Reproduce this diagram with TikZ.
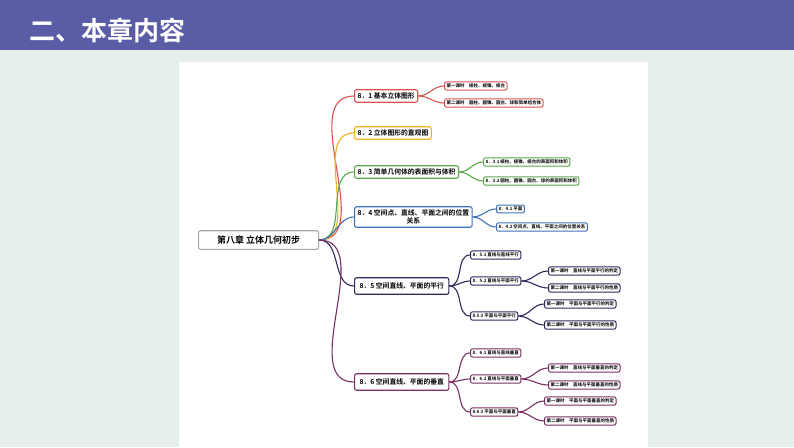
\documentclass[tikz,border=0pt]{standalone}
\usepackage{fontspec}
\setmainfont{Noto Sans CJK SC}[BoldFont={Noto Sans CJK SC Bold}]
\usetikzlibrary{positioning}
\definecolor{banner}{HTML}{5B5CA6}
\definecolor{bgray}{HTML}{E7EFED}
\definecolor{cA}{HTML}{D9534F}
\definecolor{cB}{HTML}{F0B323}
\definecolor{cC}{HTML}{5BA84A}
\definecolor{cD}{HTML}{3D72B8}
\definecolor{cE}{HTML}{2E2A5C}
\definecolor{cF}{HTML}{7A2F62}
\tikzset{
  box/.style={draw, rounded corners=2pt, line width=1.1pt, fill=white, inner sep=3pt, font=\fontsize{6.8}{8}\selectfont\bfseries, anchor=west, align=center},
  sub/.style={box, font=\fontsize{4.5}{5}\selectfont\bfseries, inner sep=2pt, line width=1pt},
  link/.style={line width=1.1pt}
}
\begin{document}
\begin{tikzpicture}[x=1pt,y=-1pt]
    %% background
    \fill[bgray] (0,0) rectangle (794,447);
    \useasboundingbox (0,0) rectangle (794,447);
    \fill[banner] (0,0) rectangle (794,50);
    \node[white, font=\fontsize{26}{28}\selectfont\bfseries, anchor=west] (title) at (26,30) {二、本章内容};
    \fill[white] (179,62) rectangle (648,447);
    %% root
    \node[box, draw=gray!70, font=\fontsize{9}{10}\selectfont\bfseries, inner sep=5pt, minimum width=120pt] (root) at (198,240) {第八章 立体几何初步};
    %% level 1
    \node[box, draw=cA] (s1) at (354,96) {8．1 基本立体图形};
    \node[box, draw=cB] (s2) at (354,133) {8．2 立体图形的直观图};
    \node[box, draw=cC] (s3) at (354,172) {8．3 简单几何体的表面积与体积};
    \node[box, draw=cD] (s4) at (354,217) {8．4 空间点、直线、平面之间的位置\\关系};
    \node[box, draw=cE, inner sep=5pt] (s5) at (354,286) {8．5 空间直线、平面的平行};
    \node[box, draw=cF, inner sep=5pt] (s6) at (354,382) {8．6 空间直线、平面的垂直};
    \foreach \n/\c in {s1/cA,s2/cB,s3/cC,s4/cD,s5/cE,s6/cF}
        \draw[link, \c] (root.east) to[out=0,in=180] (\n.west);
    %% 8.1
    \node[sub, draw=cA] (s1a) at (444,86) {第一课时　棱柱、棱锥、棱台};
    \node[sub, draw=cA] (s1b) at (444,103) {第二课时　圆柱、圆锥、圆台、球和简单组合体};
    %% 8.3
    \node[sub, draw=cC] (s3a) at (483,162) {8．3.1 棱柱、棱锥、棱台的表面积和体积};
    \node[sub, draw=cC] (s3b) at (483,181) {8．3.2 圆柱、圆锥、圆台、球的表面积和体积};
    %% 8.4
    \node[sub, draw=cD] (s4a) at (496,209) {8．4.1 平面};
    \node[sub, draw=cD] (s4b) at (496,227) {8．4.2 空间点、直线、平面之间的位置关系};
    %% 8.5
    \node[sub, draw=cE] (s5a) at (470,255) {8．5.1 直线与直线平行};
    \node[sub, draw=cE] (s5b) at (470,281) {8．5.2 直线与平面平行};
    \node[sub, draw=cE] (s5c) at (470,316) {8.5.3 平面与平面平行};
    \node[sub, draw=cE] (s5b1) at (548,271) {第一课时　直线与平面平行的判定};
    \node[sub, draw=cE] (s5b2) at (548,288) {第二课时　直线与平面平行的性质};
    \node[sub, draw=cE] (s5c1) at (544,304) {第一课时　平面与平面平行的判定};
    \node[sub, draw=cE] (s5c2) at (544,325) {第二课时　平面与平面平行的性质};
    %% 8.6
    \node[sub, draw=cF] (s6a) at (470,353) {8．6.1 直线与直线垂直};
    \node[sub, draw=cF] (s6b) at (470,379) {8．6.2 直线与平面垂直};
    \node[sub, draw=cF] (s6c) at (470,412) {8.6.3 平面与平面垂直};
    \node[sub, draw=cF] (s6b1) at (548,368) {第一课时　直线与平面垂直的判定};
    \node[sub, draw=cF] (s6b2) at (548,385) {第二课时　直线与平面垂直的性质};
    \node[sub, draw=cF] (s6c1) at (544,401) {第一课时　平面与平面垂直的判定};
    \node[sub, draw=cF] (s6c2) at (544,421) {第二课时　平面与平面垂直的性质};
    %% connectors
    \foreach \p/\n/\c in {s1/s1a/cA,s1/s1b/cA,s3/s3a/cC,s3/s3b/cC,s4/s4a/cD,s4/s4b/cD,
        s5/s5a/cE,s5/s5b/cE,s5/s5c/cE,s5b/s5b1/cE,s5b/s5b2/cE,s5c/s5c1/cE,s5c/s5c2/cE,
        s6/s6a/cF,s6/s6b/cF,s6/s6c/cF,s6b/s6b1/cF,s6b/s6b2/cF,s6c/s6c1/cF,s6c/s6c2/cF}
        \draw[link, \c] (\p.east) to[out=0,in=180] (\n.west);
\end{tikzpicture}
\end{document}
